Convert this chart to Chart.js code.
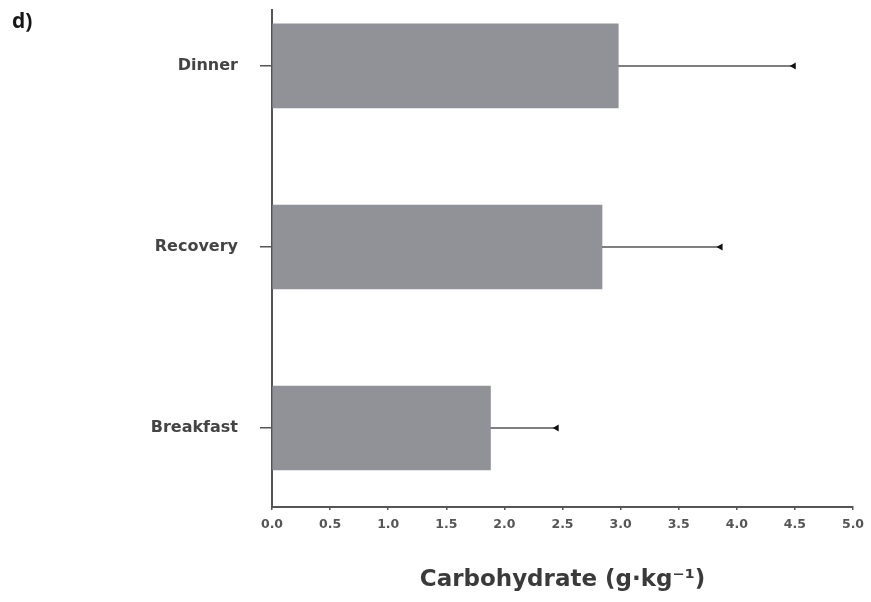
<!DOCTYPE html>
<html>
<head>
<meta charset="utf-8">
<script src="https://cdn.jsdelivr.net/npm/chart.js@4/dist/chart.umd.min.js"></script>
<style>
  html, body { margin: 0; padding: 0; background: #ffffff; }
  #wrap { position: relative; width: 871px; height: 602px; }
  #panel { position: absolute; left: 12px; top: 10px; font: bold 21px/21px "Open Sans", sans-serif; color: #161616; }
</style>
</head>
<body>
<div id="wrap">
  <canvas id="c" width="871" height="602"></canvas>
  <div id="panel">d)</div>
</div>
<script>
// ---- data ----
const categories = ["Breakfast", "Recovery", "Dinner"];   // bottom to top
const meanValues = [1.88, 2.84, 2.98];                    // g·kg⁻¹
const sdValues   = [0.57, 1.02, 1.51];                    // upper error
const xTicks     = [0, 0.5, 1, 1.5, 2, 2.5, 3, 3.5, 4, 4.5, 5];
const xTitle     = "Carbohydrate (g·kg⁻¹)";

const barData = categories.map((c, i) => ({ x: meanValues[i], y: i }));

const errorBars = {
  id: 'errorBars',
  afterDatasetsDraw(chart) {
    const meta = chart.getDatasetMeta(0);
    const xs = chart.scales.x;
    const ctx = chart.ctx;
    ctx.save();
    ctx.strokeStyle = '#555555';
    ctx.fillStyle = '#111111';
    ctx.lineWidth = 1.6;
    meta.data.forEach((bar, i) => {
      const y = bar.y;
      const x0 = bar.x;
      const x1 = xs.getPixelForValue(meanValues[i] + sdValues[i]);
      ctx.beginPath();
      ctx.moveTo(x0, y);
      ctx.lineTo(x1, y);
      ctx.stroke();
      ctx.beginPath();
      ctx.moveTo(x1 - 4, y);
      ctx.lineTo(x1 + 2, y - 3.5);
      ctx.lineTo(x1 + 2, y + 3.5);
      ctx.closePath();
      ctx.fill();
    });
    ctx.restore();
  }
};

new Chart(document.getElementById('c'), {
  type: 'bar',
  data: {
    datasets: [{
      data: barData,
      backgroundColor: '#919298',
      borderWidth: 0,
      barThickness: 84
    }]
  },
  options: {
    indexAxis: 'y',
    responsive: false,
    devicePixelRatio: 1,
    animation: false,
    layout: { padding: { left: 0, top: 10, right: 18, bottom: 0 } },
    plugins: { legend: { display: false }, tooltip: { enabled: false } },
    scales: {
      x: {
        type: 'linear',
        min: 0, max: 5,
        afterBuildTicks: (s) => { s.ticks = xTicks.map(v => ({ value: v })); },
        afterFit: (s) => { s.height = 95; s.paddingLeft = 0; s.paddingRight = 0; },
        grid: { drawOnChartArea: false, drawTicks: true, tickLength: 3, color: '#555', lineWidth: 1.5 },
        border: { display: true, color: '#555', width: 2 },
        ticks: {
          padding: 7,
          color: '#555',
          font: { family: 'DejaVu Sans', size: 12.5, weight: 'bold' },
          callback: (v) => Number(v).toFixed(1)
        },
        title: {
          display: true,
          text: xTitle,
          color: '#3a3a3a',
          font: { family: 'DejaVu Sans', size: 23, weight: 'bold' },
          padding: { top: 0, bottom: 8 }
        }
      },
      y: {
        type: 'linear',
        offset: false,
        min: -0.4365, max: 2.309,
        afterBuildTicks: (s) => { s.ticks = categories.map((c, i) => ({ value: i })); },
        afterFit: (s) => { s.width = 272; s.paddingTop = 0; s.paddingBottom = 0; },
        grid: { offset: false, drawOnChartArea: false, drawTicks: true, tickLength: 12, color: '#555', lineWidth: 1.5 },
        border: { display: true, color: '#555', width: 2 },
        ticks: {
          padding: 22,
          color: '#444',
          font: { family: 'DejaVu Sans', size: 16, weight: 'bold' },
          callback: (v) => categories[v]
        }
      }
    }
  },
  plugins: [errorBars]
});
</script>
</body>
</html>
